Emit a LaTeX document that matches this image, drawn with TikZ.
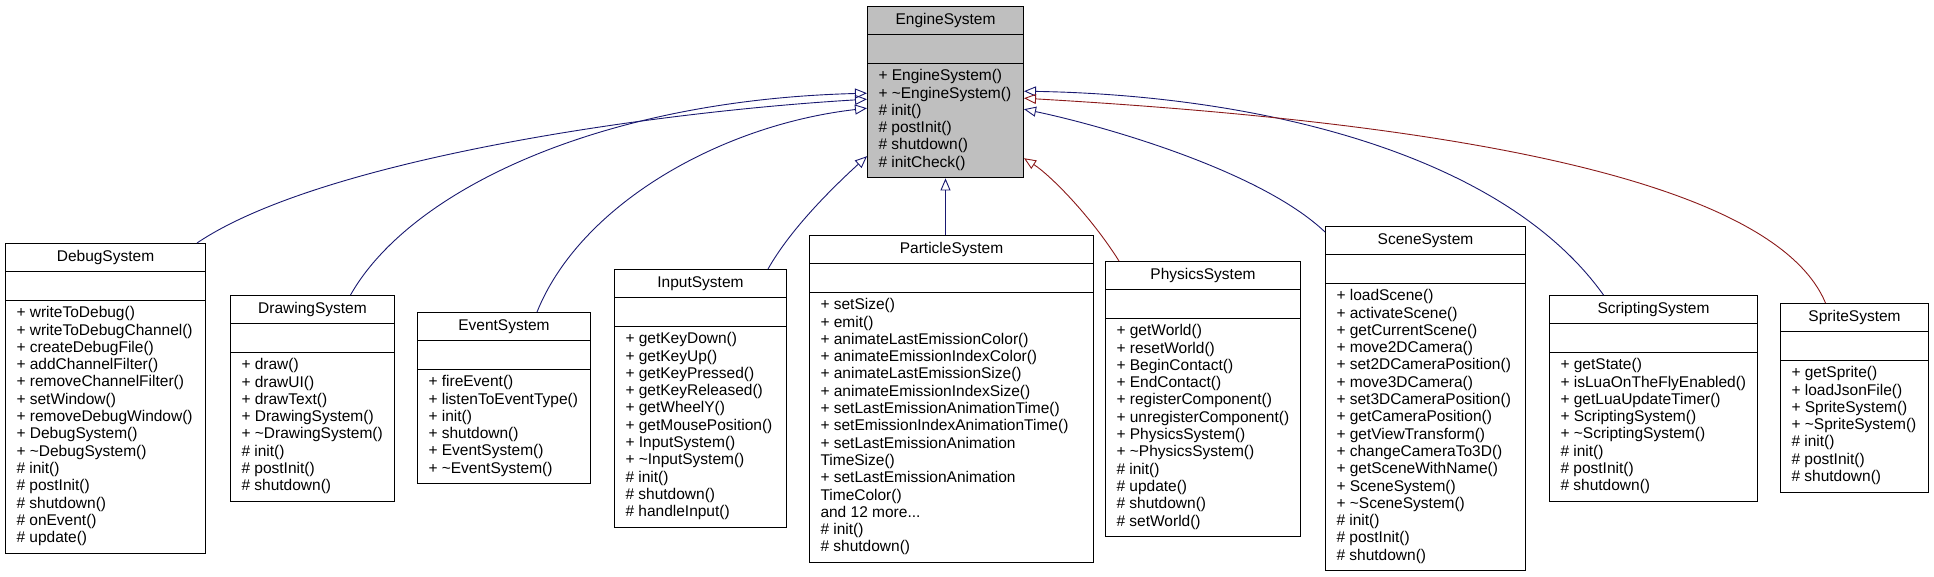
\documentclass[tikz,border=0pt]{standalone}
\usepackage{fontspec}
\usepackage{tikz}
\usetikzlibrary{shapes.multipart,arrows.meta,positioning}
\newfontfamily\classfamily{Liberation Sans}
\definecolor{inheritblue}{HTML}{191970}
\definecolor{inheritred}{HTML}{8B1A1A}
\definecolor{basegray}{HTML}{BFBFBF}

\begin{document}
\begin{tikzpicture}[x=1pt, y=-1pt,
  classbox/.style={draw=black, line width=1pt, rectangle split, rectangle split parts=3,
                   rectangle split part align={center,left,left}, align=left,
                   anchor=north west, inner xsep=11pt, inner ysep=5pt,
                   font=\classfamily\fontsize{15.5}{17.3}\selectfont},
  inherit/.style={draw=inheritblue, line width=0.9pt, -{Triangle[open, length=12pt, width=10pt]}},
  inheritr/.style={inherit, draw=inheritred}
]
\useasboundingbox (0,0) rectangle (1934,576);

% Base class
\node[classbox, fill=basegray, minimum width=156pt] (engine) at (867,6)
  {\strut EngineSystem
   \nodepart{two}\strut
   \nodepart{three}\strut + EngineSystem()\\ + \textasciitilde EngineSystem()\\ \# init()\\
   \# postInit()\\ \# shutdown()\\ \# initCheck()\strut};

% Derived classes
\node[classbox, minimum width=200pt] (debug) at (5,243)
  {\strut DebugSystem
   \nodepart{two}\strut
   \nodepart{three}\strut + writeToDebug()\\ + writeToDebugChannel()\\ + createDebugFile()\\
   + addChannelFilter()\\ + removeChannelFilter()\\ + setWindow()\\ + removeDebugWindow()\\
   + DebugSystem()\\ + \textasciitilde DebugSystem()\\ \# init()\\ \# postInit()\\ \# shutdown()\\
   \# onEvent()\\ \# update()\strut};

\node[classbox, minimum width=164pt] (drawing) at (230,295)
  {\strut DrawingSystem
   \nodepart{two}\strut
   \nodepart{three}\strut + draw()\\ + drawUI()\\ + drawText()\\ + DrawingSystem()\\
   + \textasciitilde DrawingSystem()\\ \# init()\\ \# postInit()\\ \# shutdown()\strut};

\node[classbox, minimum width=173pt] (event) at (417,312)
  {\strut EventSystem
   \nodepart{two}\strut
   \nodepart{three}\strut + fireEvent()\\ + listenToEventType()\\ + init()\\ + shutdown()\\
   + EventSystem()\\ + \textasciitilde EventSystem()\strut};

\node[classbox, minimum width=172pt] (input) at (614,269)
  {\strut InputSystem
   \nodepart{two}\strut
   \nodepart{three}\strut + getKeyDown()\\ + getKeyUp()\\ + getKeyPressed()\\ + getKeyReleased()\\
   + getWheelY()\\ + getMousePosition()\\ + InputSystem()\\ + \textasciitilde InputSystem()\\
   \# init()\\ \# shutdown()\\ \# handleInput()\strut};

\node[classbox, minimum width=284pt] (particle) at (809,235)
  {\strut ParticleSystem
   \nodepart{two}\strut
   \nodepart{three}\strut + setSize()\\ + emit()\\ + animateLastEmissionColor()\\
   + animateEmissionIndexColor()\\ + animateLastEmissionSize()\\ + animateEmissionIndexSize()\\
   + setLastEmissionAnimationTime()\\ + setEmissionIndexAnimationTime()\\
   + setLastEmissionAnimation\\ TimeSize()\\ + setLastEmissionAnimation\\ TimeColor()\\
   and 12 more...\\ \# init()\\ \# shutdown()\strut};

\node[classbox, minimum width=195pt] (physics) at (1105,261)
  {\strut PhysicsSystem
   \nodepart{two}\strut
   \nodepart{three}\strut + getWorld()\\ + resetWorld()\\ + BeginContact()\\ + EndContact()\\
   + registerComponent()\\ + unregisterComponent()\\ + PhysicsSystem()\\
   + \textasciitilde PhysicsSystem()\\ \# init()\\ \# update()\\ \# shutdown()\\ \# setWorld()\strut};

\node[classbox, minimum width=200pt] (scene) at (1325,226)
  {\strut SceneSystem
   \nodepart{two}\strut
   \nodepart{three}\strut + loadScene()\\ + activateScene()\\ + getCurrentScene()\\
   + move2DCamera()\\ + set2DCameraPosition()\\ + move3DCamera()\\ + set3DCameraPosition()\\
   + getCameraPosition()\\ + getViewTransform()\\ + changeCameraTo3D()\\ + getSceneWithName()\\
   + SceneSystem()\\ + \textasciitilde SceneSystem()\\ \# init()\\ \# postInit()\\ \# shutdown()\strut};

\node[classbox, minimum width=208pt] (scripting) at (1549,295)
  {\strut ScriptingSystem
   \nodepart{two}\strut
   \nodepart{three}\strut + getState()\\ + isLuaOnTheFlyEnabled()\\ + getLuaUpdateTimer()\\
   + ScriptingSystem()\\ + \textasciitilde ScriptingSystem()\\ \# init()\\ \# postInit()\\
   \# shutdown()\strut};

\node[classbox, minimum width=148pt] (sprite) at (1780,303)
  {\strut SpriteSystem
   \nodepart{two}\strut
   \nodepart{three}\strut + getSprite()\\ + loadJsonFile()\\ + SpriteSystem()\\
   + \textasciitilde SpriteSystem()\\ \# init()\\ \# postInit()\\ \# shutdown()\strut};

% Inheritance, left side
\draw[inherit] ([xshift=-9pt]debug.north east) .. controls (320,160) and (650,112) .. ([yshift=-7pt]engine.west);
\draw[inherit] ([xshift=38pt]drawing.north) .. controls (410,190) and (600,100) .. ([yshift=-1pt]engine.west);
\draw[inherit] ([xshift=33pt]event.north) .. controls (580,205) and (720,125) .. ([yshift=-16pt]engine.west);
\draw[inherit] ([xshift=-19pt]input.north east) .. controls (790,230) and (830,190) .. ([yshift=-64pt]engine.west);

% Inheritance, below
\draw[inherit] (engine.south |- particle.north) -- (engine.south);

% Inheritance, right side
\draw[inheritr] ([xshift=14pt]physics.north west) .. controls (1090,215) and (1050,175) .. ([yshift=-66pt]engine.east);
\draw[inherit] ([yshift=-6pt]scene.north west) .. controls (1260,170) and (1100,125) .. ([yshift=-17pt]engine.east);
\draw[inherit] ([xshift=-50pt]scripting.north) .. controls (1500,150) and (1250,95) .. ([yshift=1pt]engine.east);
\draw[inheritr] ([xshift=-29pt]sprite.north) .. controls (1770,170) and (1400,120) .. ([yshift=-6pt]engine.east);
\end{tikzpicture}
\end{document}
